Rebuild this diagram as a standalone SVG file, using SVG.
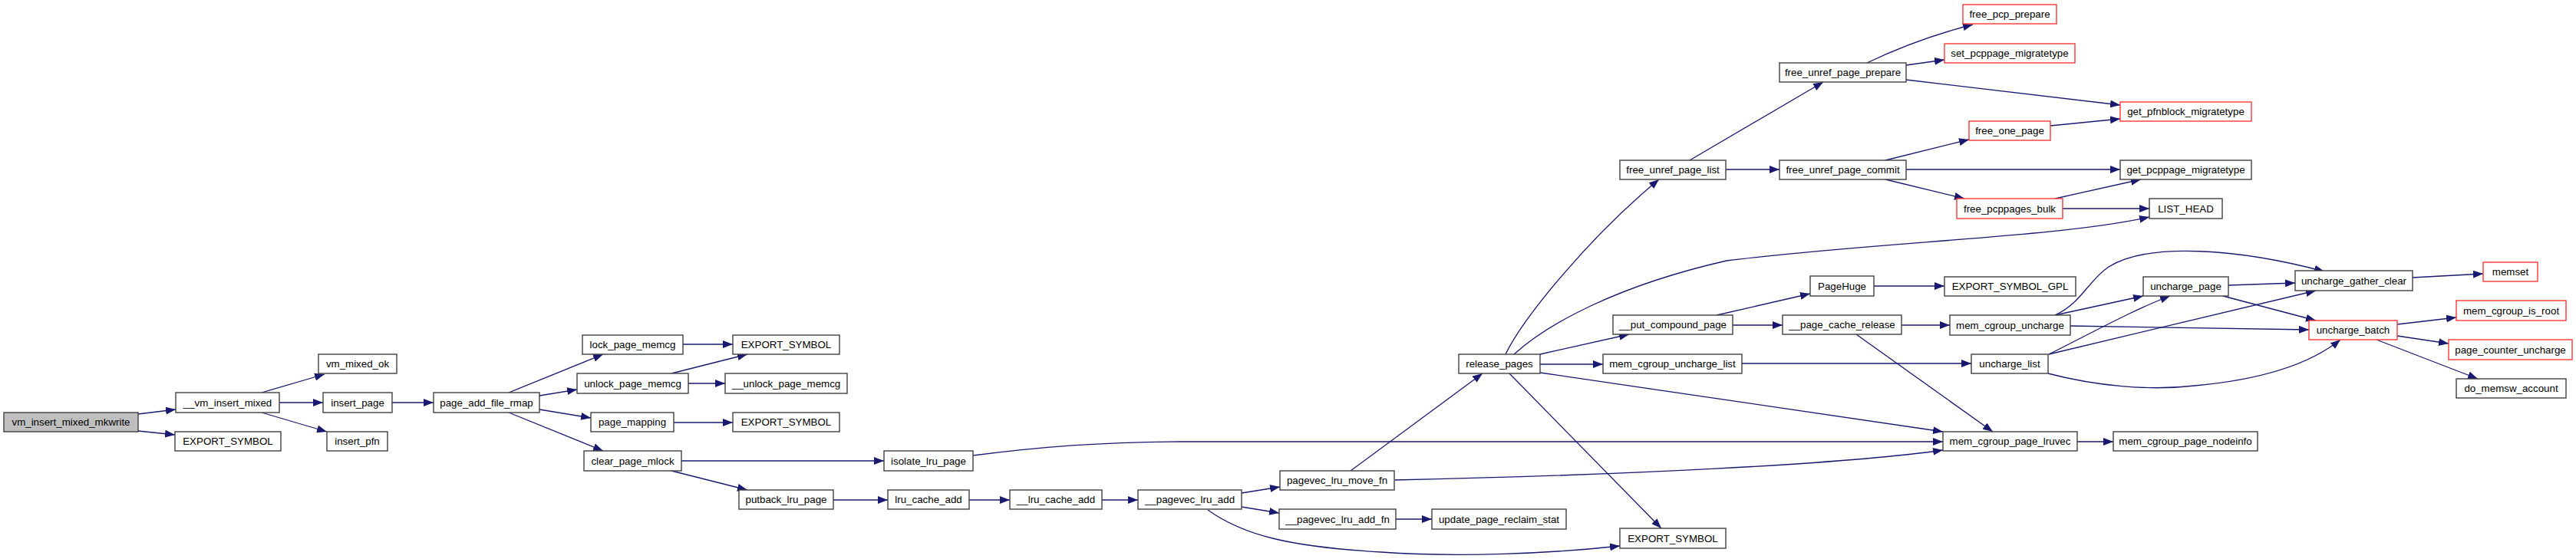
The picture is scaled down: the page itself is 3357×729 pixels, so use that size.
<svg xmlns="http://www.w3.org/2000/svg" width="3357" height="729" viewBox="0 0 3357 729">
<style>
.node rect{fill:#fff;stroke:#404040;stroke-width:1.4}
.node.root rect{fill:#bfbfbf}
.node.red rect{stroke:#ff3838}
.node text{font-family:"Liberation Sans",Arial,sans-serif;font-size:13.33px;text-anchor:middle;fill:#000}
.edges path{fill:none;stroke:#191970;stroke-width:1.3}
</style>
<defs>
<marker id="ah" viewBox="0 0 13 10" refX="13" refY="5" markerWidth="13" markerHeight="10" markerUnits="userSpaceOnUse" orient="auto">
<path d="M0,0 L13,5 L0,10 z" fill="#191970"/>
</marker>
</defs>
<rect width="3357" height="729" fill="#fff"/>
<g class="edges">
<path d="M180,540 L229,534" marker-end="url(#ah)"/>
<path d="M180,562 L228,567" marker-end="url(#ah)"/>
<path d="M341,512 L423,488" marker-end="url(#ah)"/>
<path d="M364,525 L421,525" marker-end="url(#ah)"/>
<path d="M341,538 L426,563" marker-end="url(#ah)"/>
<path d="M511,525 L565,525" marker-end="url(#ah)"/>
<path d="M663,512 L786,462" marker-end="url(#ah)"/>
<path d="M703,516 L752,508" marker-end="url(#ah)"/>
<path d="M703,534 L770,545" marker-end="url(#ah)"/>
<path d="M663,538 L786,588" marker-end="url(#ah)"/>
<path d="M890,449 L955,449" marker-end="url(#ah)"/>
<path d="M875,487 L974,462" marker-end="url(#ah)"/>
<path d="M897,500 L945,500" marker-end="url(#ah)"/>
<path d="M878,551 L955,551" marker-end="url(#ah)"/>
<path d="M888,601 L1152,601" marker-end="url(#ah)"/>
<path d="M875,614 L974,639" marker-end="url(#ah)"/>
<path d="M1268,594 C1350,583 1450,576 1540,576 L2532,576" marker-end="url(#ah)"/>
<path d="M1086,652 L1157,652" marker-end="url(#ah)"/>
<path d="M1263,652 L1316,652" marker-end="url(#ah)"/>
<path d="M1436,652 L1483,652" marker-end="url(#ah)"/>
<path d="M1618,643 L1668,635" marker-end="url(#ah)"/>
<path d="M1618,661 L1667,669" marker-end="url(#ah)"/>
<path d="M1574,665 C1620,698 1680,713 1800,720 C1900,727 2020,722 2111,712" marker-end="url(#ah)"/>
<path d="M1760,614 L1932,487" marker-end="url(#ah)"/>
<path d="M1818,626 C2100,620 2400,606 2532,587" marker-end="url(#ah)"/>
<path d="M1818,677 L1866,677" marker-end="url(#ah)"/>
<path d="M1962,462 C1985,415 2070,310 2162,234" marker-end="url(#ah)"/>
<path d="M1973,462 C2020,420 2110,372 2250,340 C2450,315 2680,310 2801,283" marker-end="url(#ah)"/>
<path d="M2007,462 L2123,436" marker-end="url(#ah)"/>
<path d="M2007,475 L2089,475" marker-end="url(#ah)"/>
<path d="M2007,486 L2532,563" marker-end="url(#ah)"/>
<path d="M1967,487 L2165,689" marker-end="url(#ah)"/>
<path d="M2202,209 L2376,107" marker-end="url(#ah)"/>
<path d="M2249,221 L2319,221" marker-end="url(#ah)"/>
<path d="M2433,82 Q2500,50 2571,32" marker-end="url(#ah)"/>
<path d="M2484,85 L2534,78" marker-end="url(#ah)"/>
<path d="M2484,104 L2763,137" marker-end="url(#ah)"/>
<path d="M2457,209 L2566,182" marker-end="url(#ah)"/>
<path d="M2484,221 L2763,221" marker-end="url(#ah)"/>
<path d="M2457,234 L2560,259" marker-end="url(#ah)"/>
<path d="M2672,164 L2763,155" marker-end="url(#ah)"/>
<path d="M2678,259 L2790,234" marker-end="url(#ah)"/>
<path d="M2688,272 L2801,272" marker-end="url(#ah)"/>
<path d="M2237,411 L2359,383" marker-end="url(#ah)"/>
<path d="M2258,424 L2323,424" marker-end="url(#ah)"/>
<path d="M2442,373 L2534,373" marker-end="url(#ah)"/>
<path d="M2478,424 L2541,424" marker-end="url(#ah)"/>
<path d="M2419,436 L2597,563" marker-end="url(#ah)"/>
<path d="M2270,474 L2569,474" marker-end="url(#ah)"/>
<path d="M2678,411 L2793,386" marker-end="url(#ah)"/>
<path d="M2678,411 C2712,396 2722,365 2748,348 C2800,315 2920,325 3029,354" marker-end="url(#ah)"/>
<path d="M2698,425 L3009,430" marker-end="url(#ah)"/>
<path d="M2670,462 C2730,432 2780,404 2828,386" marker-end="url(#ah)"/>
<path d="M2670,462 L3018,379" marker-end="url(#ah)"/>
<path d="M2669,487 C2730,503 2800,510 2860,503 C2950,495 3010,475 3050,443" marker-end="url(#ah)"/>
<path d="M2904,372 L2991,369" marker-end="url(#ah)"/>
<path d="M2897,386 L3018,418" marker-end="url(#ah)"/>
<path d="M3144,362 L3236,357" marker-end="url(#ah)"/>
<path d="M3124,423 L3201,414" marker-end="url(#ah)"/>
<path d="M3124,438 L3191,448" marker-end="url(#ah)"/>
<path d="M3097,443 L3229,494" marker-end="url(#ah)"/>
<path d="M2707,576 L2754,576" marker-end="url(#ah)"/>
</g>
<g id="n0" class="node root"><rect x="5" y="538" width="175" height="25"/><text x="92.5" y="555.2">vm_insert_mixed_mkwrite</text></g>
<g id="n1" class="node"><rect x="229" y="512" width="135" height="26"/><text x="296.5" y="529.7">__vm_insert_mixed</text></g>
<g id="n2" class="node"><rect x="228" y="563" width="138" height="25"/><text x="297" y="580.2">EXPORT_SYMBOL</text></g>
<g id="n3" class="node"><rect x="415" y="462" width="102" height="25"/><text x="466" y="479.2">vm_mixed_ok</text></g>
<g id="n4" class="node"><rect x="421" y="512" width="90" height="26"/><text x="466" y="529.7">insert_page</text></g>
<g id="n5" class="node"><rect x="426" y="563" width="79" height="25"/><text x="465.5" y="580.2">insert_pfn</text></g>
<g id="n6" class="node"><rect x="565" y="512" width="138" height="26"/><text x="634" y="529.7">page_add_file_rmap</text></g>
<g id="n7" class="node"><rect x="759" y="437" width="131" height="25"/><text x="824.5" y="454.2">lock_page_memcg</text></g>
<g id="n8" class="node"><rect x="752" y="487" width="145" height="26"/><text x="824.5" y="504.7">unlock_page_memcg</text></g>
<g id="n9" class="node"><rect x="770" y="538" width="108" height="25"/><text x="824" y="555.2">page_mapping</text></g>
<g id="n10" class="node"><rect x="761" y="588" width="127" height="26"/><text x="824.5" y="605.7">clear_page_mlock</text></g>
<g id="n11" class="node"><rect x="955" y="437" width="139" height="25"/><text x="1024.5" y="454.2">EXPORT_SYMBOL</text></g>
<g id="n12" class="node"><rect x="945" y="487" width="159" height="26"/><text x="1024.5" y="504.7">__unlock_page_memcg</text></g>
<g id="n13" class="node"><rect x="955" y="538" width="139" height="25"/><text x="1024.5" y="555.2">EXPORT_SYMBOL</text></g>
<g id="n14" class="node"><rect x="1152" y="588" width="116" height="26"/><text x="1210" y="605.7">isolate_lru_page</text></g>
<g id="n15" class="node"><rect x="963" y="639" width="123" height="25"/><text x="1024.5" y="656.2">putback_lru_page</text></g>
<g id="n16" class="node"><rect x="1157" y="639" width="106" height="25"/><text x="1210" y="656.2">lru_cache_add</text></g>
<g id="n17" class="node"><rect x="1316" y="639" width="120" height="25"/><text x="1376" y="656.2">__lru_cache_add</text></g>
<g id="n18" class="node"><rect x="1483" y="639" width="135" height="25"/><text x="1550.5" y="656.2">__pagevec_lru_add</text></g>
<g id="n19" class="node"><rect x="1668" y="614" width="149" height="25"/><text x="1742.5" y="631.2">pagevec_lru_move_fn</text></g>
<g id="n20" class="node"><rect x="1667" y="664" width="152" height="26"/><text x="1743" y="681.7">__pagevec_lru_add_fn</text></g>
<g id="n21" class="node"><rect x="1866" y="664" width="175" height="26"/><text x="1953.5" y="681.7">update_page_reclaim_stat</text></g>
<g id="n22" class="node"><rect x="2111" y="689" width="138" height="26"/><text x="2180" y="706.7">EXPORT_SYMBOL</text></g>
<g id="n23" class="node"><rect x="1901" y="462" width="106" height="25"/><text x="1954" y="479.2">release_pages</text></g>
<g id="n24" class="node"><rect x="2111" y="209" width="138" height="25"/><text x="2180" y="226.2">free_unref_page_list</text></g>
<g id="n25" class="node"><rect x="2319" y="82" width="165" height="25"/><text x="2401.5" y="99.2">free_unref_page_prepare</text></g>
<g id="n26" class="node"><rect x="2319" y="209" width="165" height="25"/><text x="2401.5" y="226.2">free_unref_page_commit</text></g>
<g id="n27" class="node red"><rect x="2558" y="6" width="122" height="25"/><text x="2619" y="23.2">free_pcp_prepare</text></g>
<g id="n28" class="node red"><rect x="2534" y="57" width="170" height="25"/><text x="2619" y="74.2">set_pcppage_migratetype</text></g>
<g id="n29" class="node red"><rect x="2763" y="133" width="171" height="25"/><text x="2848.5" y="150.2">get_pfnblock_migratetype</text></g>
<g id="n30" class="node red"><rect x="2566" y="158" width="106" height="25"/><text x="2619" y="175.2">free_one_page</text></g>
<g id="n31" class="node"><rect x="2763" y="209" width="171" height="25"/><text x="2848.5" y="226.2">get_pcppage_migratetype</text></g>
<g id="n32" class="node red"><rect x="2550" y="259" width="138" height="26"/><text x="2619" y="276.7">free_pcppages_bulk</text></g>
<g id="n33" class="node"><rect x="2801" y="259" width="95" height="26"/><text x="2848.5" y="276.7">LIST_HEAD</text></g>
<g id="n34" class="node"><rect x="2102" y="411" width="156" height="25"/><text x="2180" y="428.2">__put_compound_page</text></g>
<g id="n35" class="node"><rect x="2089" y="462" width="181" height="25"/><text x="2179.5" y="479.2">mem_cgroup_uncharge_list</text></g>
<g id="n36" class="node"><rect x="2359" y="360" width="83" height="26"/><text x="2400.5" y="377.7">PageHuge</text></g>
<g id="n37" class="node"><rect x="2323" y="411" width="155" height="25"/><text x="2400.5" y="428.2">__page_cache_release</text></g>
<g id="n38" class="node"><rect x="2534" y="361" width="171" height="25"/><text x="2619.5" y="378.2">EXPORT_SYMBOL_GPL</text></g>
<g id="n39" class="node"><rect x="2541" y="411" width="157" height="26"/><text x="2619.5" y="428.7">mem_cgroup_uncharge</text></g>
<g id="n40" class="node"><rect x="2569" y="462" width="100" height="25"/><text x="2619" y="479.2">uncharge_list</text></g>
<g id="n41" class="node"><rect x="2532" y="563" width="175" height="25"/><text x="2619.5" y="580.2">mem_cgroup_page_lruvec</text></g>
<g id="n42" class="node"><rect x="2754" y="563" width="188" height="25"/><text x="2848" y="580.2">mem_cgroup_page_nodeinfo</text></g>
<g id="n43" class="node"><rect x="2793" y="361" width="111" height="25"/><text x="2848.5" y="378.2">uncharge_page</text></g>
<g id="n44" class="node"><rect x="2991" y="353" width="153" height="26"/><text x="3067.5" y="370.7">uncharge_gather_clear</text></g>
<g id="n45" class="node red"><rect x="3236" y="342" width="71" height="25"/><text x="3271.5" y="359.2">memset</text></g>
<g id="n46" class="node red"><rect x="3009" y="418" width="115" height="25"/><text x="3066.5" y="435.2">uncharge_batch</text></g>
<g id="n47" class="node red"><rect x="3201" y="392" width="143" height="26"/><text x="3272.5" y="409.7">mem_cgroup_is_root</text></g>
<g id="n48" class="node red"><rect x="3191" y="443" width="161" height="26"/><text x="3271.5" y="460.7">page_counter_uncharge</text></g>
<g id="n49" class="node"><rect x="3201" y="494" width="143" height="25"/><text x="3272.5" y="511.2">do_memsw_account</text></g>
</svg>
